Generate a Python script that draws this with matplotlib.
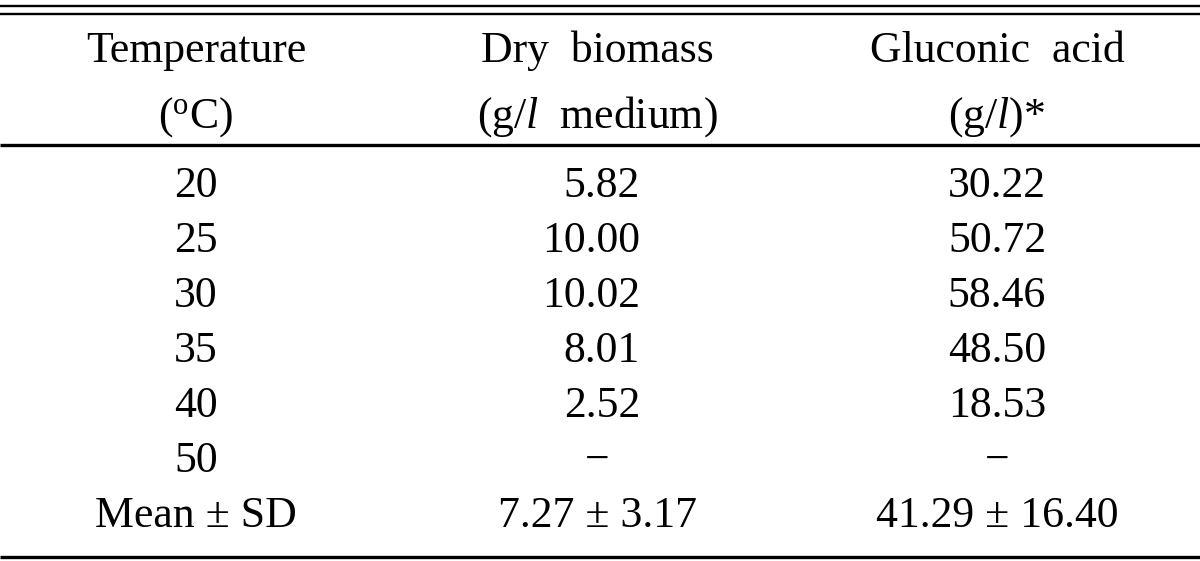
import matplotlib
matplotlib.use("Agg")
import matplotlib.pyplot as plt

plt.rcParams['font.family'] = ['Liberation Serif', 'DejaVu Serif']
plt.rcParams['mathtext.fontset'] = 'custom'
plt.rcParams['mathtext.rm'] = 'Liberation Serif'
plt.rcParams['mathtext.it'] = 'Liberation Serif:italic'

# Data
header_line1 = ["Temperature", "Dry  biomass", "Gluconic  acid"]
header_line2 = [r"($^{\mathrm{o}}$C)", r"(g/$\mathit{l}$  medium)", r"(g/$\mathit{l}$)*"]
temperatures = ["20", "25", "30", "35", "40", "50", "Mean ± SD"]
dry_biomass = ["5.82", "10.00", "10.02", "8.01", "2.52", "−", "7.27 ± 3.17"]
gluconic_acid = ["30.22", "50.72", "58.46", "48.50", "18.53", "−", "41.29 ± 16.40"]

W, H = 1200, 561
fig = plt.figure(figsize=(W / 100, H / 100), dpi=100)
ax = fig.add_axes([0, 0, 1, 1])
ax.set_xlim(0, W)
ax.set_ylim(H, 0)
ax.axis('off')

fs = 31.5
col_centers = [196, 597, 997]
col2_right = 640

# rules
ax.hlines([6, 13.5], 0, W, color='black', lw=1.7)
ax.hlines(145, 0, W, color='black', lw=2.4)
ax.hlines(557, 0, W, color='black', lw=2.4)

# header
for x, t1, t2 in zip(col_centers, header_line1, header_line2):
    ax.text(x, 62, t1, ha='center', va='baseline', fontsize=fs)
    ax.text(x, 128, t2, ha='center', va='baseline', fontsize=fs)

# body
base0, step = 197, 55
for i, (t, d, g) in enumerate(zip(temperatures, dry_biomass, gluconic_acid)):
    y = base0 + i * step
    ax.text(col_centers[0], y, t, ha='center', va='baseline', fontsize=fs)
    if any(c.isdigit() for c in d) and '±' not in d:
        ax.text(col2_right, y, d, ha='right', va='baseline', fontsize=fs)
    else:
        ax.text(col_centers[1], y, d, ha='center', va='baseline', fontsize=fs)
    ax.text(col_centers[2], y, g, ha='center', va='baseline', fontsize=fs)

fig.savefig("out.png", dpi=100)
